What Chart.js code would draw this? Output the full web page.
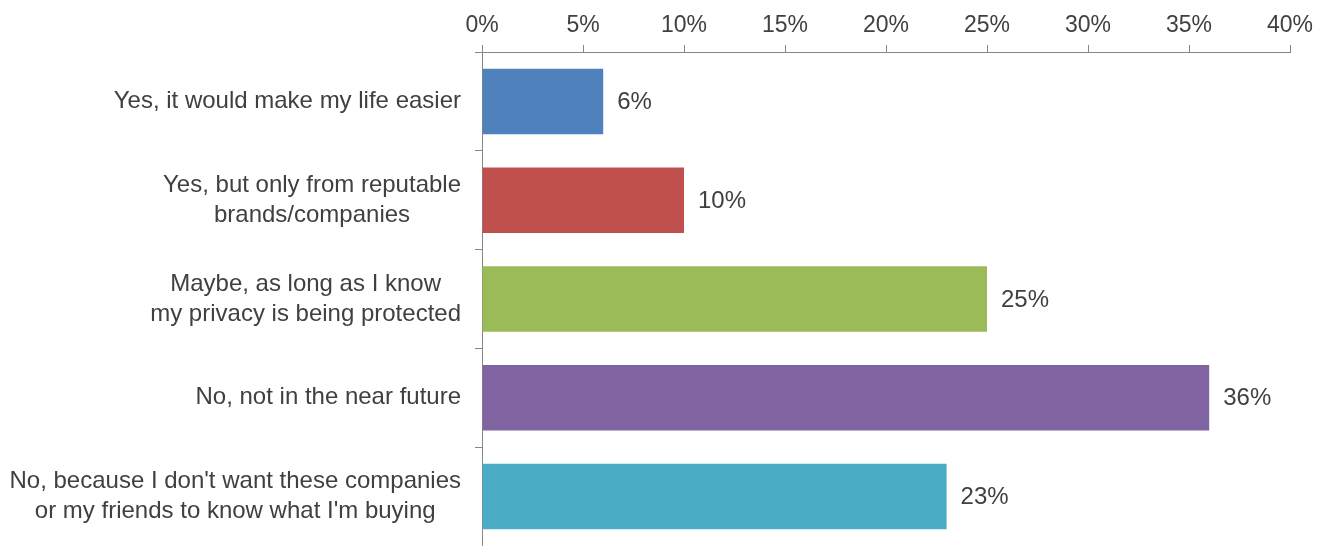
<!DOCTYPE html>
<html>
<head>
<meta charset="utf-8">
<title>Survey responses</title>
<script src="https://cdn.jsdelivr.net/npm/chart.js@4/dist/chart.umd.min.js"></script>
<style>
  html, body { margin: 0; padding: 0; background: #fff; }
  #wrap { position: relative; width: 1326px; height: 546px; }
</style>
</head>
<body>
<div id="wrap"><canvas id="surveyChart"></canvas></div>
<script>
/* global Chart */
// 응답 항목 (여러 줄 라벨은 배열로)
const categories = [
  ['Yes, it would make my life easier'],
  ['Yes, but only from reputable', 'brands/companies'],
  ['Maybe, as long as I know', 'my privacy is being protected'],
  ['No, not in the near future'],
  ["No, because I don't want these companies", "or my friends to know what I'm buying"],
];
const shares = [6, 10, 25, 36, 23];
const barColors = ['#4F81BD', '#C0504D', '#9BBB59', '#8064A2', '#4BACC6'];
const xTicks = [0, 5, 10, 15, 20, 25, 30, 35, 40];

const FONT = '"Liberation Sans", Arial, sans-serif';
const TEXT = '#404040';
const AXIS = '#868686';

// 카테고리 라벨: 줄마다 가운데 정렬, 블록은 축 왼쪽에 오른쪽 정렬
const categoryLabels = {
  id: 'categoryLabels',
  afterDraw(chart) {
    const ctx = chart.ctx;
    const yScale = chart.scales.y;
    const right = chart.chartArea.left - 21;
    const lineH = 30;
    ctx.save();
    ctx.font = '24px ' + FONT;
    ctx.fillStyle = TEXT;
    ctx.textBaseline = 'middle';
    ctx.textAlign = 'center';
    categories.forEach((lines, i) => {
      const cy = yScale.getPixelForValue(i);
      const widest = Math.max(...lines.map((l) => ctx.measureText(l).width));
      const cx = right - widest / 2;
      const y0 = cy - ((lines.length - 1) * lineH) / 2;
      lines.forEach((l, j) => ctx.fillText(l, cx, y0 + j * lineH));
    });
    ctx.restore();
  },
};

// 막대 끝의 값 라벨
const valueLabels = {
  id: 'valueLabels',
  afterDatasetsDraw(chart) {
    const ctx = chart.ctx;
    const meta = chart.getDatasetMeta(0);
    ctx.save();
    ctx.font = '24px ' + FONT;
    ctx.fillStyle = TEXT;
    ctx.textBaseline = 'middle';
    ctx.textAlign = 'left';
    meta.data.forEach((bar, i) => {
      ctx.fillText(Math.round(shares[i]) + '%', bar.x + 14, bar.y + 1);
    });
    ctx.restore();
  },
};

new Chart(document.getElementById('surveyChart'), {
  type: 'bar',
  data: {
    labels: categories.map((l) => l.join(' ')),
    datasets: [
      {
        data: shares,
        backgroundColor: barColors,
        borderWidth: 0,
        barPercentage: 0.663,
        categoryPercentage: 1,
      },
    ],
  },
  options: {
    indexAxis: 'y',
    responsive: true,
    maintainAspectRatio: false,
    animation: false,
    layout: { padding: { top: 0, right: 36, bottom: 0, left: 0 } },
    plugins: {
      legend: { display: false },
      tooltip: { enabled: false },
    },
    scales: {
      x: {
        position: 'top',
        min: 0,
        max: 40,
        afterBuildTicks(scale) {
          scale.ticks = xTicks.map((v) => ({ value: v }));
        },
        afterFit(scale) {
          scale.height = 52;
        },
        ticks: {
          callback: (v) => v + '%',
          font: { family: FONT, size: 23 },
          color: TEXT,
          padding: 6,
          maxRotation: 0,
        },
        grid: {
          drawOnChartArea: false,
          tickLength: 7,
          color: AXIS,
        },
        border: { color: AXIS, width: 1 },
      },
      y: {
        offset: true,
        afterFit(scale) {
          scale.width = 482;
        },
        ticks: { display: false },
        grid: {
          offset: true,
          drawOnChartArea: false,
          tickLength: 7,
          color: AXIS,
        },
        border: { color: AXIS, width: 1 },
      },
    },
  },
  plugins: [categoryLabels, valueLabels],
});
</script>
</body>
</html>
